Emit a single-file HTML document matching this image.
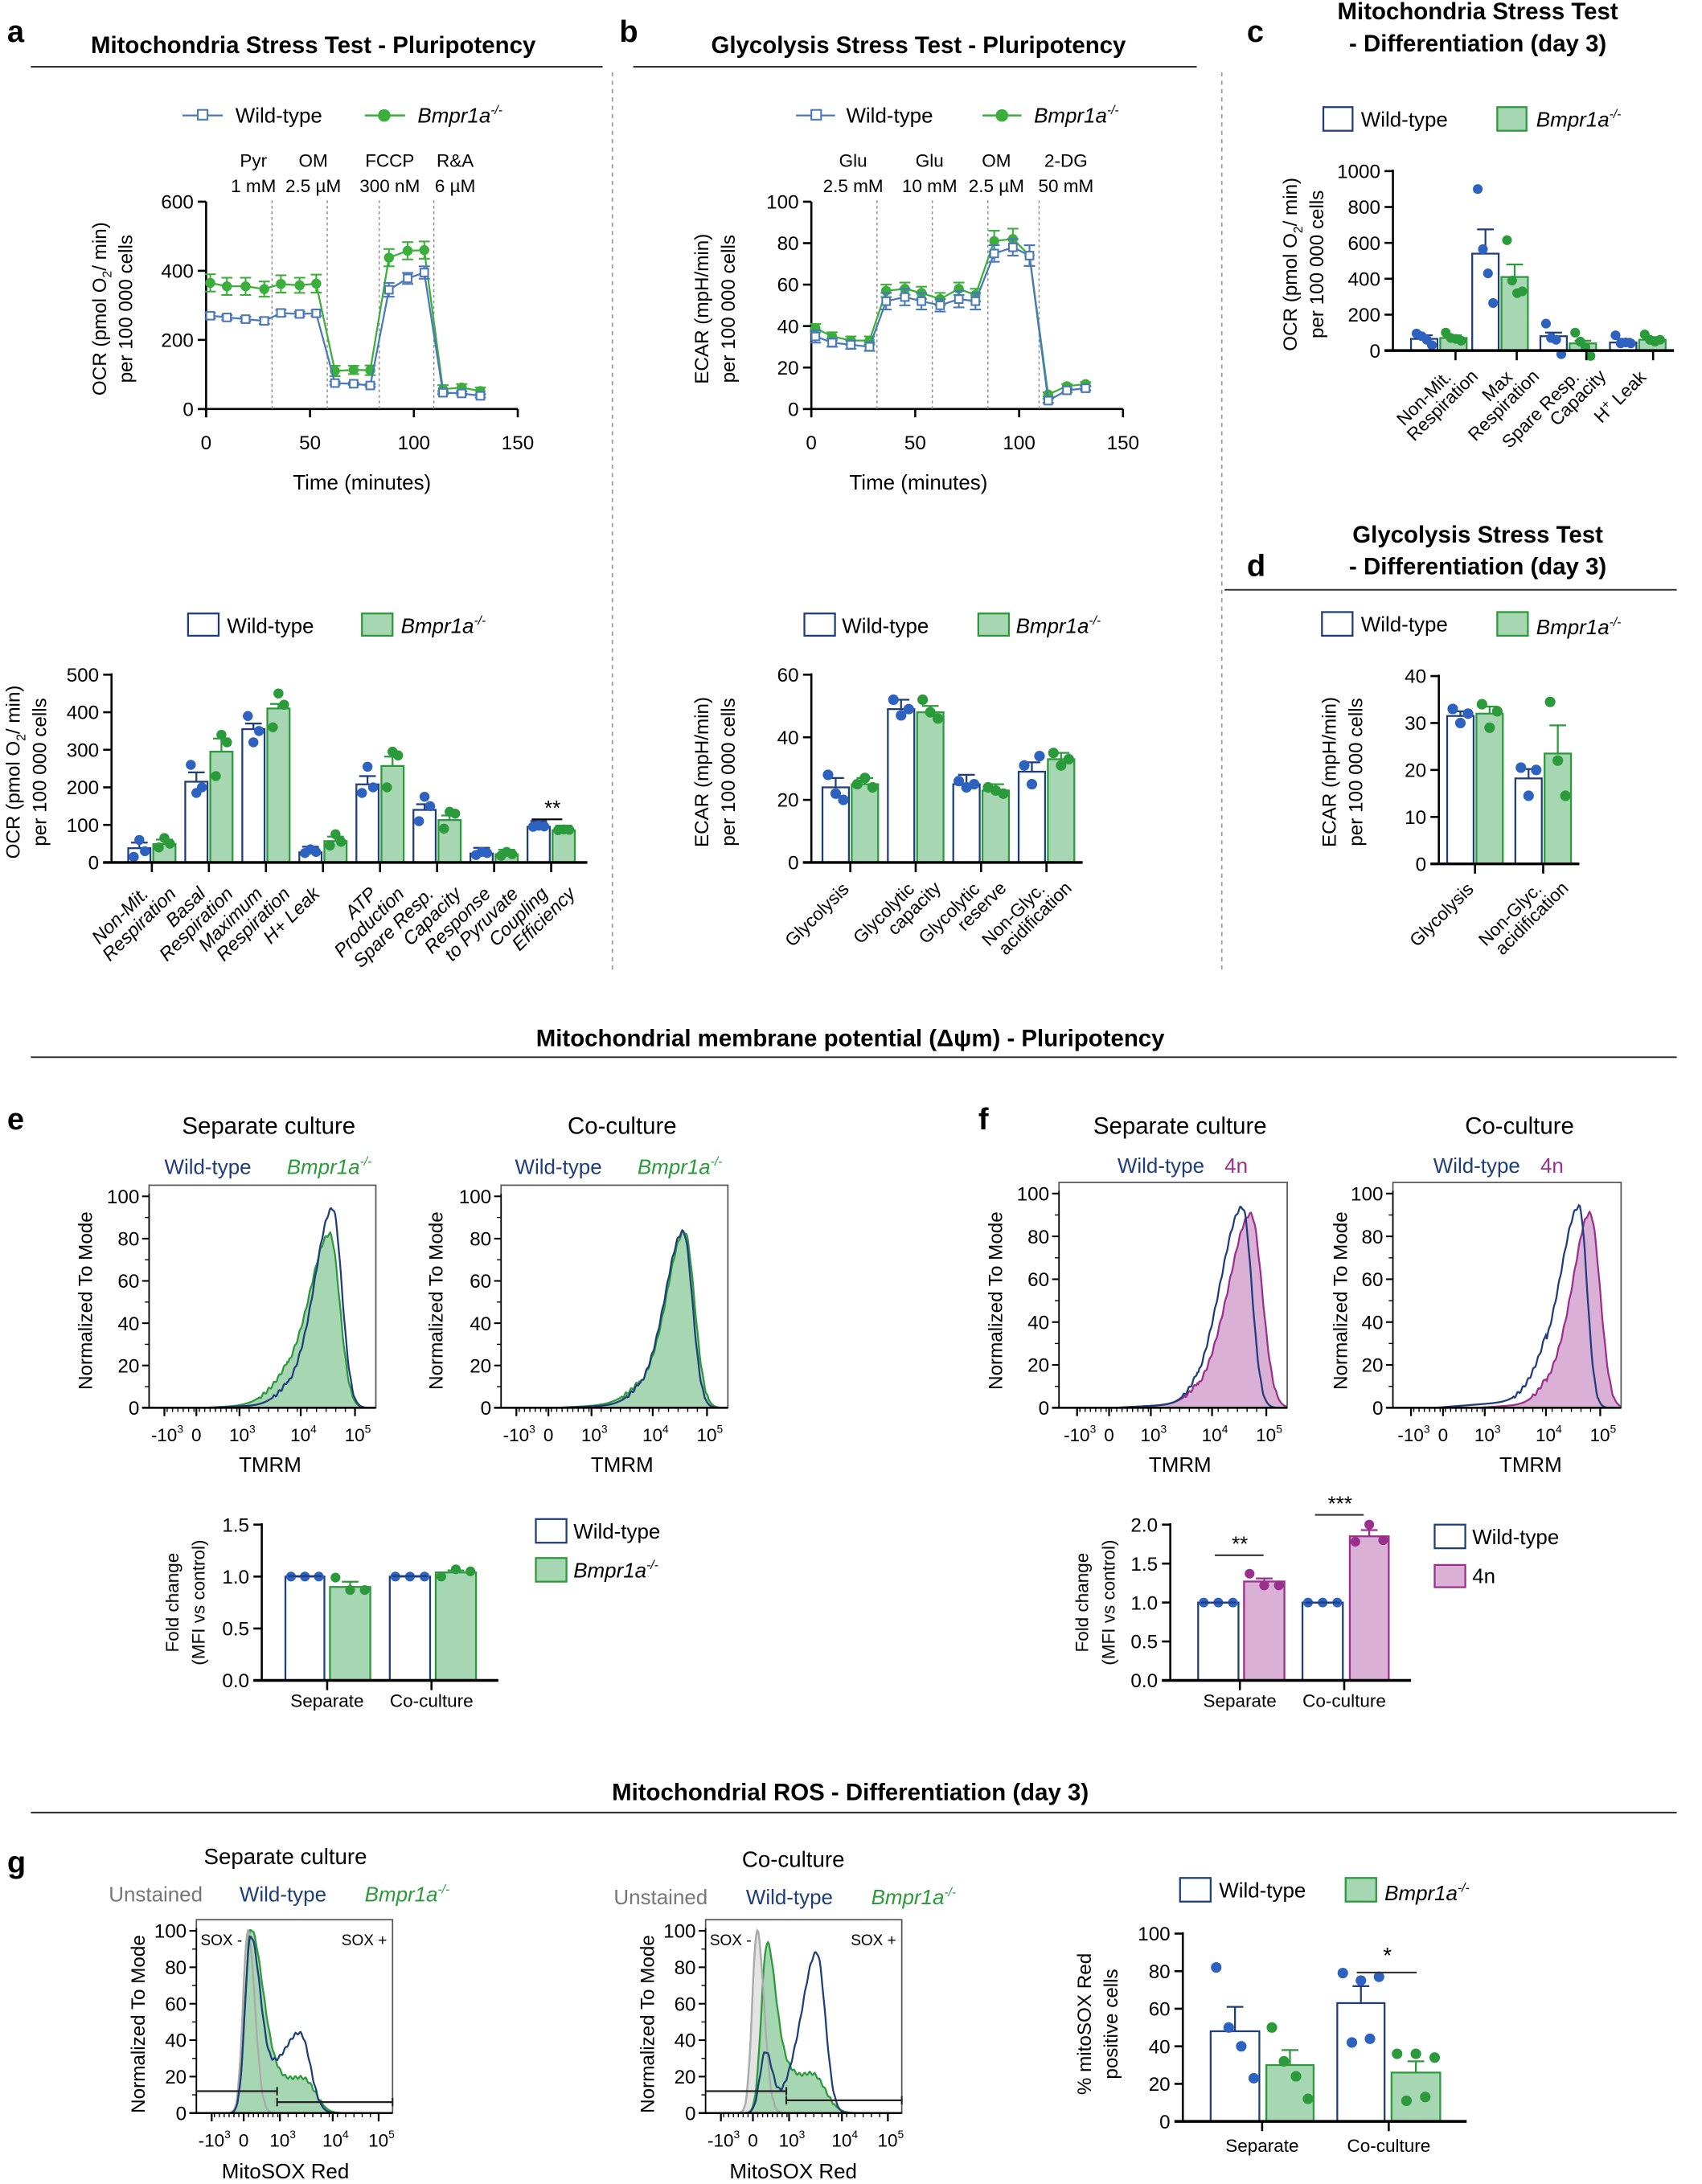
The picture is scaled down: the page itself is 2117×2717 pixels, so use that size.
<!DOCTYPE html>
<html><head><meta charset="utf-8"><style>
html,body{margin:0;padding:0;background:#fff;}
svg{display:block;font-family:"Liberation Sans",Arial,sans-serif;}
</style></head><body>
<svg id="s" xmlns="http://www.w3.org/2000/svg" width="2117" height="2717" viewBox="0 0 1223 1570"></svg>
<script>
var S=document.getElementById('s');var o='';
var NAVY='#1f3d7a',BLUE='#2d62c0',GRN='#2a9a3a',GF='#a6d6b2',PUR='#9b2f8c',PF='#dbb0d6',LB='#4a78b8',LG='#3cae3c';
function T(x,y,s,a){a=a||{};o+='<text x="'+x+'" y="'+y+'" font-size="'+(a.fs||13)+'"'+(a.anc?' text-anchor="'+a.anc+'"':'')+(a.fw?' font-weight="bold"':'')+(a.it?' font-style="italic"':'')+' fill="'+(a.c||'#000')+'"'+(a.tr?' transform="'+a.tr+'"':'')+'>'+s+'</text>';}
function L(x1,y1,x2,y2,c,w,d){o+='<line x1="'+x1+'" y1="'+y1+'" x2="'+x2+'" y2="'+y2+'" stroke="'+(c||'#000')+'" stroke-width="'+(w||1.5)+'"'+(d?' stroke-dasharray="'+d+'"':'')+'/>';}
function R(x,y,w,h,f,c,sw){o+='<rect x="'+x+'" y="'+y+'" width="'+w+'" height="'+h+'" fill="'+f+'" stroke="'+c+'" stroke-width="'+(sw||1.3)+'"/>';}
function C(x,y,r,f){o+='<circle cx="'+x+'" cy="'+y+'" r="'+r+'" fill="'+f+'"/>';}
var SUP='<tspan font-size="9" dy="-6">-/-</tspan>';
function bm(x,y,fs,c,anc){T(x,y,'Bmpr1a'+SUP,{fs:fs||15,it:1,c:c||'#000',anc:anc});}
function ylab(x,y,l1,l2,fs){fs=fs||14;T(x,y,l1,{fs:fs,anc:'middle',tr:'rotate(-90 '+x+' '+y+')'});if(l2)T(x+19,y,l2,{fs:fs,anc:'middle',tr:'rotate(-90 '+(x+19)+' '+y+')'});}
var OCR='OCR (pmol O<tspan font-size="9" dy="4">2</tspan><tspan dy="-4">/ min)</tspan>';
T(5,30,'a',{fs:22,fw:1});T(225,38,'Mitochondria Stress Test - Pluripotency',{fs:17,fw:1,anc:'middle'});L(22,48,433,48,'#333',1.2);
T(445,30,'b',{fs:22,fw:1});T(660,38,'Glycolysis Stress Test - Pluripotency',{fs:17,fw:1,anc:'middle'});L(455,48,860,48,'#333',1.2);
T(896,30,'c',{fs:22,fw:1});T(1062,14,'Mitochondria Stress Test',{fs:17,fw:1,anc:'middle'});T(1062,37,'- Differentiation (day 3)',{fs:17,fw:1,anc:'middle'});
T(896,414,'d',{fs:22,fw:1});T(1062,390,'Glycolysis Stress Test',{fs:17,fw:1,anc:'middle'});T(1062,413,'- Differentiation (day 3)',{fs:17,fw:1,anc:'middle'});L(880,424,1205,424,'#333',1.2);
L(440,52,440,700,'#999',1,'3,3');L(878,52,878,700,'#999',1,'3,3');
T(611,752,'Mitochondrial membrane potential (Δψm) - Pluripotency',{fs:17,fw:1,anc:'middle'});L(22,760,1205,760,'#333',1.2);
T(611,1294,'Mitochondrial ROS - Differentiation (day 3)',{fs:17,fw:1,anc:'middle'});L(22,1303,1205,1303,'#333',1.2);
function linechart(x0,x1,y0,y1,ymax,ystep,ann,dash,gd,bd,gerr,berr){
 var t=[2,10,19,28,36,45,53,62,71,79,88,97,105,114,123,132];
 var X=function(m){return x0+(x1-x0)*m/150},Y=function(v){return y0-(y0-y1)*v/ymax};
 L(x0,y1,x0,y0+6);L(x0-6,y0,x1,y0);
 for(var v=0;v<=ymax;v+=ystep){L(x0-6,Y(v),x0,Y(v));T(x0-9,Y(v)+5,v,{fs:14,anc:'end'});}
 [0,50,100,150].forEach(function(m){L(X(m),y0,X(m),y0+6);T(X(m),y0+29,m,{fs:14,anc:'middle'});});
 dash.forEach(function(m){L(X(m),y1-1,X(m),y0,'#888',0.8,'2,2');});
 ann.forEach(function(a){T(a[0],120,a[1],{fs:13,anc:'middle'});T(a[0],138,a[2],{fs:13,anc:'middle'});});
 function ser(d,e,c,sq){var p='';d.forEach(function(v,i){p+=(i?'L':'M')+X(t[i]).toFixed(1)+' '+Y(v).toFixed(1);});o+='<path d="'+p+'" fill="none" stroke="'+c+'" stroke-width="1.3"/>';
  d.forEach(function(v,i){var x=X(t[i]),y=Y(v),ee=(y0-y1)*e[i]/ymax;L(x,y-ee,x,y+ee,c,1.2);L(x-4,y-ee,x+4,y-ee,c,1.2);L(x-4,y+ee,x+4,y+ee,c,1.2);
  if(sq)o+='<rect x="'+(x-2.8)+'" y="'+(y-2.8)+'" width="5.6" height="5.6" fill="#fff" stroke="'+c+'" stroke-width="1.2"/>';else C(x,y,3.6,c);});}
 ser(gd,gerr,LG,0);ser(bd,berr,LB,1);
}
L(131,83,160,83,LB,1.3);R(142,79,7,7,'#fff',LB,1.2);T(169,88,'Wild-type',{fs:15});
L(262,83,291,83,LG,1.5);C(276,83,4.5,LG);bm(300,88,15);
linechart(148,372,294,145,600,200,[[182,'Pyr','1 mM'],[225,'OM','2.5 µM'],[280,'FCCP','300 nM'],[327,'R&amp;A','6 µM']],[31.7,58.3,83.3,109.6],
 [365,355,355,347,362,358,363,110,113,112,438,458,460,57,62,52],[270,265,260,255,278,275,277,75,73,68,345,378,395,47,45,38],
 [25,25,25,22,25,22,26,15,12,14,25,25,25,12,10,10],[8,7,7,9,9,7,8,5,4,4,20,16,18,5,5,5]);
T(260,352,'Time (minutes)',{fs:15,anc:'middle'});ylab(76,222,OCR,'per 100 000 cells');
L(572,83,600,83,LB,1.3);R(583,79,7,7,'#fff',LB,1.2);T(608,88,'Wild-type',{fs:15});
L(706,83,734,83,LG,1.5);C(720,83,4.5,LG);bm(743,88,15);
linechart(583,807,294,145,100,20,[[613,'Glu','2.5  mM'],[668,'Glu','10  mM'],[716,'OM','2.5 µM'],[766,'2-DG','50 mM']],[31.6,58.2,85,109.6],
 [39,35,33,33,57,58,56,53,58,55,81,82,74,7,11,12],[35,32,31,30,52,54,52,50,53,52,75,78,74,4,9,10],
 [2,2,2,2,3,3,3,3,3,3,5,5,5,1,1,1],[3,2,2,2,4,4,4,3,4,4,4,4,5,1,1,1]);
T(660,352,'Time (minutes)',{fs:15,anc:'middle'});ylab(509,222,'ECAR (mpH/min)','per 100 000 cells');
function barchart(cfg){
 var x0=cfg.x0,x1=cfg.x1,y0=cfg.y0,y1=cfg.y1,ym=cfg.ymax;var Y=function(v){return y0-(y0-y1)*v/ym};
 cfg.bars.forEach(function(b){var h=y0-Y(b.v);var ko=b.k;var fill=ko?(cfg.kf||GF):'#fff',st=ko?(cfg.kc||GRN):NAVY;
  R(b.x,Y(b.v),b.w,h,fill,st,1.3);var e=(y0-y1)*b.e/ym;var cx=b.x+b.w/2;L(cx,Y(b.v),cx,Y(b.v)-e,st,1.3);L(cx-6,Y(b.v)-e,cx+6,Y(b.v)-e,st,1.3);
  var pc=ko?(cfg.pc||GRN):BLUE;var n=b.p.length;b.p.forEach(function(v,i){var px=b.x+4+(b.w-8)*(n>1?i/(n-1):0.5);C(px,Y(v),cfg.r||3.8,pc);});});
 L(x0,y1-1,x0,y0);L(x0-6,y0,x1,y0,'#000',2);
 for(var v=0;v<=ym+1e-9;v+=cfg.step){L(x0-6,Y(v),x0,Y(v));T(x0-9,Y(v)+5,cfg.fmt?cfg.fmt(v):v,{fs:14,anc:'end'});}
 (cfg.ticks||[]).forEach(function(tx){L(tx,y0,tx,y0+7,'#000',1.5);});
}
R(135,441,22,16,'#fff',NAVY,1.3);T(163,455,'Wild-type',{fs:15});R(260,441,22,16,GF,GRN,1.3);bm(288,455,15);
(function(){var ticks=[109,150,191,232,273,314,355,396];var d=[[38,[15,60,30],49,[40,65,50]],[215,[260,185,200],295,[230,340,320]],[355,[390,320,350],410,[360,450,420]],[27,[25,35,28],57,[45,75,55]],[208,[185,255,200],257,[200,295,285]],[140,[110,175,150],113,[90,135,130]],[24,[20,28,25],22,[18,28,22]],[95,[95,98,96],86,[86,88,87]]];
 var bars=[];ticks.forEach(function(t,i){bars.push({x:t-17,w:16,v:d[i][0],p:d[i][1],e:i==1?25:i==4?22:15});bars.push({x:t+1,w:16,v:d[i][2],p:d[i][3],k:1,e:i==1?35:i==4?25:12});});
 barchart({x0:80,x1:422,y0:620,y1:485,ymax:500,step:100,bars:bars,ticks:ticks,r:3.6});
 var labs=[['Non-Mit.','Respiration'],['Basal','Respiration'],['Maximum','Respiration'],['H+ Leak',''],['ATP','Production'],['Spare Resp.','Capacity'],['Response','to Pyruvate'],['Coupling','Efficiency']];
 labs.forEach(function(l,i){var x=ticks[i]+4,y=632;T(x-12,y+4,l[0],{fs:13.5,it:1,anc:'end',tr:'rotate(-45 '+x+' '+y+')'});if(l[1])T(x+2,y+18,l[1],{fs:13.5,it:1,anc:'end',tr:'rotate(-45 '+x+' '+y+')'});});
 T(397,586,'**',{fs:15,anc:'middle'});L(382,589,404,589,'#000',1.2);
 ylab(14,555,OCR,'per 100 000 cells');})();
R(578,441,22,16,'#fff',NAVY,1.3);T(605,455,'Wild-type',{fs:15});R(703,441,22,16,GF,GRN,1.3);bm(730,455,15);
(function(){var ticks=[611,658,705,752];var d=[[24,[28,22,20],25,[25,27,24]],[49,[52,47,49],48,[52,48,46]],[25,[26,24,25],23,[24,23,22]],[29,[31,25,34],33,[35,31,33]]];var bars=[];
 ticks.forEach(function(t,i){bars.push({x:t-20,w:19,v:d[i][0],p:d[i][1],e:3});bars.push({x:t+1,w:19,v:d[i][2],p:d[i][3],k:1,e:2});});
 barchart({x0:583,x1:778,y0:620,y1:485,ymax:60,step:20,bars:bars,ticks:ticks});
 var labs=[['Glycolysis',''],['Glycolytic','capacity'],['Glycolytic','reserve'],['Non-Glyc.','acidification']];
 labs.forEach(function(l,i){var x=ticks[i]+4,y=630;T(x-10,y+4,l[0],{fs:13,anc:'end',tr:'rotate(-45 '+x+' '+y+')'});if(l[1])T(x+4,y+17,l[1],{fs:13,anc:'end',tr:'rotate(-45 '+x+' '+y+')'});});
 ylab(509,555,'ECAR (mpH/min)','per 100 000 cells');})();
R(951,77,21,17,'#fff',NAVY,1.3);T(978,91,'Wild-type',{fs:15});R(1076,77,21,17,GF,GRN,1.3);bm(1104,91,15);
(function(){var ticks=[1034,1078,1127,1177];var d=[[65,[95,80,60,30],70,[100,70,65,55]],[540,[900,565,430,265],410,[615,390,320,330]],[80,[150,70,60,-20],40,[100,50,20,-30]],[45,[85,40,45,40],60,[90,60,50,60]]];var bars=[];
 ticks.forEach(function(t,i){bars.push({x:t-20,w:19,v:d[i][0],p:d[i][1],e:i==1?135:20});bars.push({x:t+1,w:19,v:d[i][2],p:d[i][3],k:1,e:i==1?70:15});});
 barchart({x0:1001,x1:1203,y0:252,y1:123,ymax:1000,step:200,bars:bars,ticks:[1046,1090,1140,1188],r:3.5});
 var labs=[['Non-Mit.','Respiration'],['Max','Respiration'],['Spare Resp.','Capacity'],['H<tspan font-size="9" dy="-5">+</tspan><tspan dy="5"> Leak</tspan>','']];
 [1048,1092,1140,1188].forEach(function(x,i){var y=262,l=labs[i];T(x-10,y+4,l[0],{fs:13,anc:'end',tr:'rotate(-45 '+x+' '+y+')'});if(l[1])T(x+4,y+17,l[1],{fs:13,anc:'end',tr:'rotate(-45 '+x+' '+y+')'});});
 ylab(932,190,OCR,'per 100 000 cells');})();
R(950,440,22,17,'#fff',NAVY,1.3);T(978,454,'Wild-type',{fs:15});R(1076,440,22,17,GF,GRN,1.3);bm(1104,456,15);
(function(){var d=[[31.5,[33,30,32],32,[34,29,32.5]],[18.2,[20.5,14.5,20],23.5,[34.5,22,14.5]]];var bars=[];
 [1040,1089].forEach(function(x,i){bars.push({x:x,w:19,v:d[i][0],p:d[i][1],e:i?2:1});bars.push({x:x+21,w:19,v:d[i][2],p:d[i][3],k:1,e:i?6:1.5});});
 barchart({x0:1034,x1:1135,y0:621,y1:486,ymax:40,step:10,bars:bars,ticks:[1060,1109]});
 [[1064,'Glycolysis',''],[1113,'Non-Glyc.','acidification']].forEach(function(l){var x=l[0],y=630;T(x-10,y+4,l[1],{fs:13,anc:'end',tr:'rotate(-45 '+x+' '+y+')'});if(l[2])T(x+4,y+17,l[2],{fs:13,anc:'end',tr:'rotate(-45 '+x+' '+y+')'});});
 ylab(960,555,'ECAR (mpH/min)','per 100 000 cells');})();
function hist(bx,bw,y0,y100,rel,series){
 var Y=function(v){return y0-(y0-y100)*v/100};
 o+='<rect x="'+bx+'" y="'+(y100-8)+'" width="'+bw+'" height="'+(y0-y100+8)+'" fill="none" stroke="#555" stroke-width="1"/>';
 series.forEach(function(s){var p='M'+bx+' '+y0;for(var x=0;x<=bw;x+=0.7){var v=s.base?s.base(x):0;s.g.forEach(function(g){var sg=x<g[0]?g[2]:g[3];v+=g[1]*Math.exp(-0.5*Math.pow((x-g[0])/sg,2));});v+=0.8*Math.sin(x*1.7)*(v>5?1:0);p+='L'+(bx+x).toFixed(1)+' '+Y(Math.max(0,v)).toFixed(1);}
  if(s.fill)o+='<path d="'+p+'L'+(bx+bw)+' '+y0+'Z" fill="'+s.fill+'" stroke="none"/>';
  o+='<path d="'+p+'" fill="none" stroke="'+s.c+'" stroke-width="1.3"/>';});
 L(bx-5,y0,bx+bw,y0,'#000',1.5);L(bx,y100-2,bx,y0,'#000',1);
 for(var v=0;v<=100;v+=20){L(bx-5,Y(v),bx,Y(v),'#000',1.2);T(bx-7,Y(v)+5,v,{fs:14,anc:'end'});}
 for(v=10;v<100;v+=20)L(bx-3,Y(v),bx,Y(v),'#000',0.8);
 var labs=['-10<tspan font-size="8" dy="-6">3</tspan>','0','10<tspan font-size="8" dy="-6">3</tspan>','10<tspan font-size="8" dy="-6">4</tspan>','10<tspan font-size="8" dy="-6">5</tspan>'];
 rel.forEach(function(r,i){L(bx+r,y0,bx+r,y0+6,'#000',1.3);T(bx+r+(i==1?0:2),y0+24,labs[i],{fs:13,anc:'middle'});});
 for(var k=0;k<14;k++)L(bx+rel[0]+2+k*((rel[2]-rel[0])/14),y0,bx+rel[0]+2+k*((rel[2]-rel[0])/14),y0+3,'#000',0.8);
 for(k=0;k<12;k++){var xx=bx+rel[2]+k*((rel[4]-rel[2])/12);L(xx,y0,xx,y0+3,'#000',0.8);}
}
var relE=[11,34,65,109,148];
function tail(a,b,h){return function(x){return x>a&&x<b?h*(x-a)/(b-a):0;};}
T(5,812,'e',{fs:22,fw:1});T(193,815,'Separate culture',{fs:17,anc:'middle'});T(447,815,'Co-culture',{fs:17,anc:'middle'});
T(118,844,'Wild-type',{fs:15,c:NAVY});bm(206,844,15,GRN);T(370,844,'Wild-type',{fs:15,c:NAVY});bm(458,844,15,GRN);
hist(107,163,1012,860,relE,[{c:GRN,fill:GF,g:[[130,82,15,7],[100,10,14,10]],base:tail(40,100,2)},{c:NAVY,g:[[132,94,13,6.5],[105,8,12,10]],base:tail(40,100,1.5)}]);
T(194,1058,'TMRM',{fs:15,anc:'middle'});ylab(66,935,'Normalized To Mode');
hist(360,163,1012,860,relE,[{c:GRN,fill:GF,g:[[132,83,13,7],[105,8,14,10]],base:tail(40,100,2)},{c:NAVY,g:[[131,83,13,6.5],[105,7,12,10]],base:tail(40,100,1.5)}]);
T(447,1058,'TMRM',{fs:15,anc:'middle'});ylab(318,935,'Normalized To Mode');
T(703,812,'f',{fs:22,fw:1});T(848,815,'Separate culture',{fs:17,anc:'middle'});T(1092,815,'Co-culture',{fs:17,anc:'middle'});
T(803,843,'Wild-type',{fs:15,c:NAVY});T(880,843,'4n',{fs:15,c:PUR});T(1030,843,'Wild-type',{fs:15,c:NAVY});T(1107,843,'4n',{fs:15,c:PUR});
hist(761,164,1012,858,[13,36,66,110,149],[{c:PUR,fill:PF,g:[[138,90,15,8],[112,10,14,10]],base:tail(40,100,2)},{c:NAVY,g:[[132,93,15,6.5],[108,8,12,10]],base:tail(40,100,2)}]);
T(848,1058,'TMRM',{fs:15,anc:'middle'});ylab(720,935,'Normalized To Mode');
hist(1001,164,1012,858,[13,36,66,110,149],[{c:PUR,fill:PF,g:[[142,88,11,7],[122,18,12,10]],base:tail(60,110,2)},{c:NAVY,g:[[134,93,13,5.5],[110,14,12,10]],base:tail(30,110,4)}]);
T(1100,1058,'TMRM',{fs:15,anc:'middle'});ylab(968,935,'Normalized To Mode');
(function(){barchart({x0:188,x1:358,y0:1208,y1:1096,ymax:1.5,step:0.5,fmt:function(v){return v.toFixed(1)},ticks:[235,310],r:3.5,
 bars:[{x:205,w:28,v:1,p:[1,1,1],e:0},{x:237,w:29,v:0.9,p:[0.99,0.87,0.87],k:1,e:0.05},{x:280,w:29,v:1,p:[1,1,1],e:0},{x:313,w:29,v:1.04,p:[1.0,1.07,1.05],k:1,e:0.02}]});
 L(207,1133,231,1133,NAVY,1.3);L(282,1133,307,1133,NAVY,1.3);
 T(235,1227,'Separate',{fs:13,anc:'middle'});T(310,1227,'Co-culture',{fs:13,anc:'middle'});ylab(128,1152,'Fold change','(MFI vs control)',13);
 R(385,1092,22,17,'#fff',NAVY,1.3);T(412,1106,'Wild-type',{fs:15});R(385,1120,22,17,GF,GRN,1.3);bm(412,1134,15);})();
(function(){barchart({x0:841,x1:1014,y0:1208,y1:1096,ymax:2,step:0.5,fmt:function(v){return v.toFixed(1)},ticks:[891,966],r:3.5,kf:PF,kc:PUR,pc:PUR,
 bars:[{x:861,w:29,v:1,p:[1,1,1],e:0},{x:894,w:29,v:1.27,p:[1.37,1.22,1.22],k:1,e:0.04},{x:936,w:29,v:1,p:[1,1,1],e:0},{x:970,w:28,v:1.85,p:[1.78,2.0,1.8],k:1,e:0.08}]});
 L(863,1152,888,1152,NAVY,1.3);L(938,1152,963,1152,NAVY,1.3);
 T(891,1115,'**',{fs:15,anc:'middle'});L(873,1118,908,1118,'#333',1.2);T(963,1086,'***',{fs:15,anc:'middle'});L(945,1089,980,1089,'#333',1.2);
 T(891,1227,'Separate',{fs:13,anc:'middle'});T(966,1227,'Co-culture',{fs:13,anc:'middle'});ylab(782,1152,'Fold change','(MFI vs control)',13);
 R(1031,1096,22,17,'#fff',NAVY,1.3);T(1058,1110,'Wild-type',{fs:15});R(1031,1125,22,16,PF,PUR,1.3);T(1058,1138,'4n',{fs:15});})();
T(5,1346,'g',{fs:22,fw:1});T(205,1340,'Separate culture',{fs:16,anc:'middle'});T(570,1342,'Co-culture',{fs:16,anc:'middle'});
T(78,1367,'Unstained',{fs:15,c:'#777'});T(172,1367,'Wild-type',{fs:15,c:NAVY});bm(262,1367,15,GRN);
T(441,1369,'Unstained',{fs:15,c:'#777'});T(536,1369,'Wild-type',{fs:15,c:NAVY});bm(626,1369,15,GRN);
var relG=[11,34,60,98,131];
function gate(bx,bw,y0,y100,split,h1,h2){var Y=function(v){return y0-(y0-y100)*v/100};L(bx,Y(h1),bx+split,Y(h1),'#222',1.3);L(bx+split,Y(h1)-3,bx+split,Y(h1)+3,'#222',1.2);L(bx+split,Y(h2),bx+bw,Y(h2),'#222',1.3);L(bx+split,Y(h2)-3,bx+split,Y(h2)+3,'#222',1.2);L(bx+bw,Y(h2)-3,bx+bw,Y(h2)+3,'#222',1.2);
 T(bx+3,Y(92),'SOX -',{fs:11});T(bx+bw-4,Y(92),'SOX +',{fs:11,anc:'end'});}
hist(141,141,1519,1388,relG,[{c:'#aaa',fill:'#e4e4e4',g:[[37,100,3.5,5]]},{c:GRN,fill:GF,g:[[39,100,4,9],[58,14,8,10],[78,17,10,8]]},{c:'#aaa',g:[[37,100,3.5,5]]},{c:NAVY,g:[[39,97,4,7.5],[58,16,6,8],[75,42,10,7]]}]);
gate(141,141,1519,1388,58,12,6);T(205,1566,'MitoSOX Red',{fs:15,anc:'middle'});ylab(104,1455,'Normalized To Mode');
hist(507,141,1519,1388,relG,[{c:'#aaa',fill:'#e4e4e4',g:[[37,100,3.5,5]]},{c:GRN,fill:GF,g:[[44,90,4,6],[56,22,6,8],[77,21,10,9]]},{c:'#aaa',g:[[37,100,3.5,5]]},{c:NAVY,g:[[43,33,4,5],[62,12,8,8],[80,87,10,6]]}]);
gate(507,141,1519,1388,58,12,7);T(570,1566,'MitoSOX Red',{fs:15,anc:'middle'});ylab(470,1455,'Normalized To Mode');
(function(){barchart({x0:850,x1:1054,y0:1525,y1:1390,ymax:100,step:20,ticks:[907,998],r:3.8,
 bars:[{x:870,w:35,v:48,p:[82,50,40,23],e:13},{x:910,w:34,v:30,p:[50,32,24,12],k:1,e:8},{x:961,w:34,v:63,p:[79,42,75,44,77],e:9},{x:1000,w:35,v:26,p:[36,11,36,13,34],k:1,e:6}]});
 T(997,1411,'*',{fs:16,anc:'middle'});L(975,1418,1018,1418,'#333',1.2);
 T(907,1547,'Separate',{fs:13,anc:'middle'});T(998,1547,'Co-culture',{fs:13,anc:'middle'});ylab(784,1455,'% mitoSOX Red','positive cells');
 R(848,1350,22,17,'#fff',NAVY,1.3);T(876,1364,'Wild-type',{fs:15});R(967,1350,22,17,GF,GRN,1.3);bm(995,1366,15);})();
S.innerHTML=o;
</script>
</body></html>
